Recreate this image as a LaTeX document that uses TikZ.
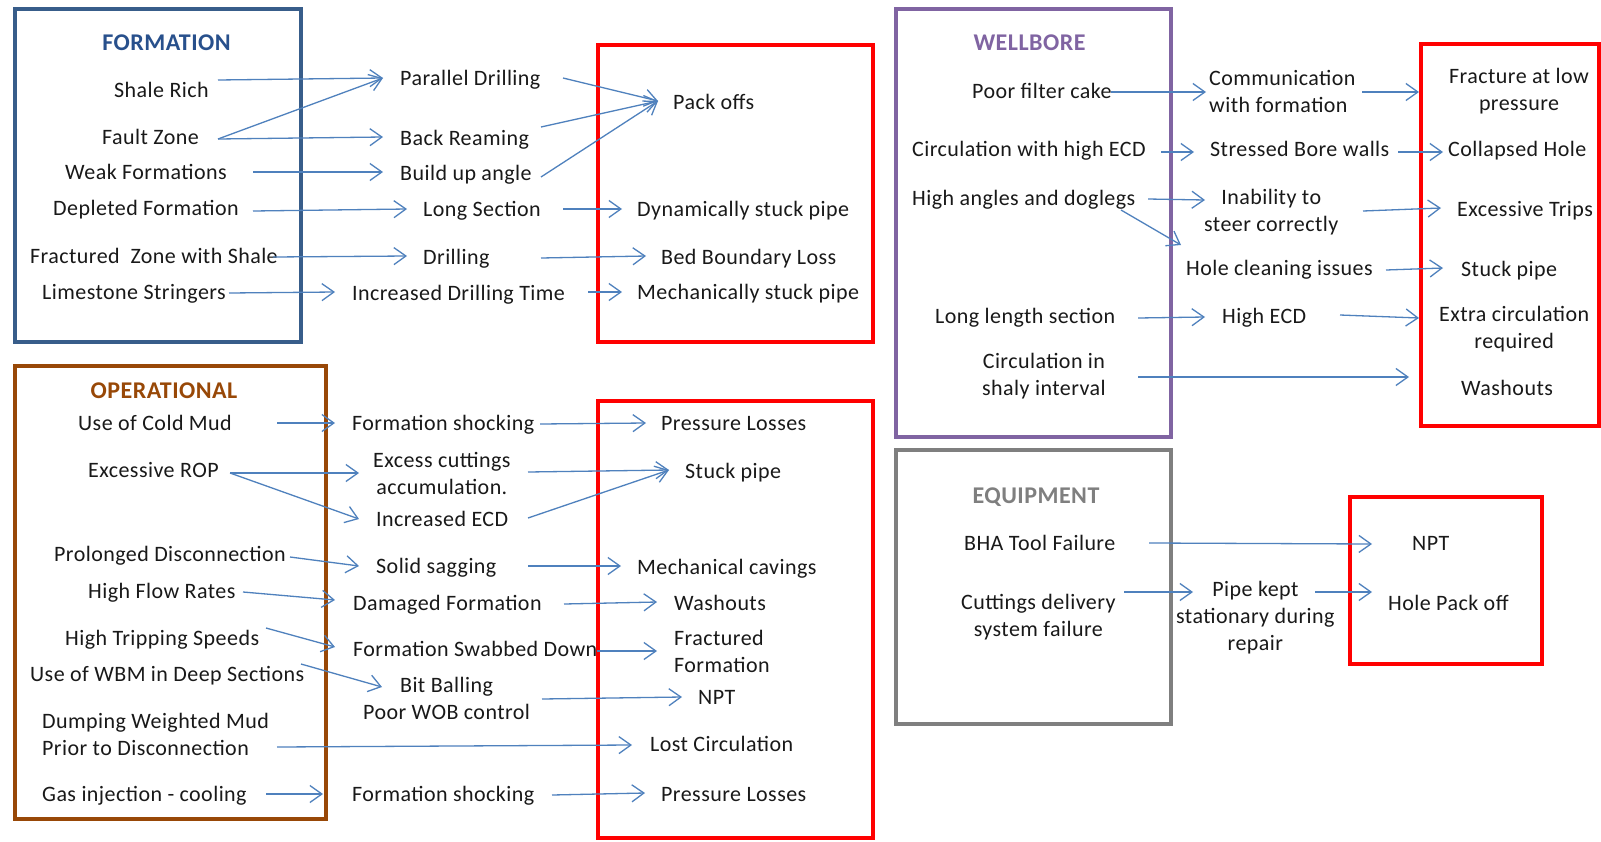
\documentclass[tikz,border=0pt]{standalone}
\usepackage{fontspec}
\setmainfont{Carlito}[LetterSpace=2.0]
\usetikzlibrary{arrows.meta}
\definecolor{arrowc}{RGB}{79,129,189}
\definecolor{formc}{RGB}{56,93,138}
\definecolor{formt}{RGB}{40,80,140}
\definecolor{operc}{RGB}{152,72,7}
\definecolor{wellc}{RGB}{128,100,162}
\definecolor{equipc}{RGB}{127,127,127}
\definecolor{redc}{RGB}{255,0,0}
\definecolor{txtc}{RGB}{25,25,25}
\tikzset{
  x=1pt, y=-1pt,
  txt/.style={inner sep=0pt, anchor=west, text=txtc, font=\fontsize{22}{27}\selectfont, text height=17pt, text depth=3pt},
  txtm/.style={inner sep=0pt, anchor=west, text=txtc, font=\fontsize{22}{27}\selectfont},
  ttl/.style={inner sep=0pt, anchor=center, font=\fontsize{24}{29}\selectfont\bfseries},
  arr/.style={draw=arrowc, line width=1.3pt, -{Straight Barb[length=12pt,width=17pt]}},
  boxline/.style={line width=4pt}
}
\begin{document}
\begin{tikzpicture}
\useasboundingbox (0,0) rectangle (1601,841);
\fill[white] (0,0) rectangle (1601,841);

% ---------- boxes ----------
\draw[boxline, draw=formc]  (15,8.5) rectangle (300.5,341.5);
\draw[boxline, draw=operc]  (15,366) rectangle (326,819);
\draw[boxline, draw=wellc]  (896,8.5) rectangle (1171,437);
\draw[boxline, draw=equipc] (896,449.5) rectangle (1171,724);
\draw[boxline, draw=redc] (598,44.5) rectangle (873,342);
\draw[boxline, draw=redc] (598,401) rectangle (873,838);
\draw[boxline, draw=redc] (1421,44) rectangle (1599,426);
\draw[boxline, draw=redc] (1350,497) rectangle (1542,664);

% ---------- FORMATION ----------
\node[ttl, text=formt] (F0) at (166.5,42.5) {FORMATION};
\node[txt] (f1) at (114,90) {Shale Rich};
\node[txt] (f2) at (102,137) {Fault Zone};
\node[txt] (f3) at (65,172) {Weak Formations};
\node[txt] (f4) at (53,208) {Depleted Formation};
\node[txt] (f5) at (30,256) {Fractured\ \ Zone with Shale};
\node[txt] (f6) at (42,292) {Limestone Stringers};
\node[txt] (m1) at (400,78) {Parallel Drilling};
\node[txt] (m2) at (400,138) {Back Reaming};
\node[txt] (m3) at (400,173) {Build up angle};
\node[txt] (m4) at (423,209) {Long Section};
\node[txt] (m5) at (423,257) {Drilling};
\node[txt] (m6) at (352,293) {Increased Drilling Time};
\node[txt] (r1) at (673,102) {Pack offs};
\node[txt] (r2) at (637,209) {Dynamically stuck pipe};
\node[txt] (r3) at (661,257) {Bed Boundary Loss};
\node[txt] (r4) at (637,292) {Mechanically stuck pipe};

\draw[arr] ([shift={(104,-10)}]f1.west) -- ([shift={(-17,0)}]m1.west);
\draw[arr] ([shift={(116,2)}]f2.west) -- ([shift={(-17,0)}]m1.west);
\draw[arr] ([shift={(116,2)}]f2.west) -- ([shift={(-17,-1)}]m2.west);
\draw[arr] ([shift={(188,0)}]f3.west) -- ([shift={(-17,-1)}]m3.west);
\draw[arr] ([shift={(200,3)}]f4.west) -- ([shift={(-16,0)}]m4.west);
\draw[arr] ([shift={(243,1)}]f5.west) -- ([shift={(-16,-1)}]m5.west);
\draw[arr] ([shift={(187,1)}]f6.west) -- ([shift={(-17,-1)}]m6.west);
\draw[arr] ([shift={(163,0)}]m1.west) -- ([shift={(-15,-1)}]r1.west);
\draw[arr] ([shift={(141,-11)}]m2.west) -- ([shift={(-15,-1)}]r1.west);
\draw[arr] ([shift={(141,4)}]m3.west) -- ([shift={(-15,-1)}]r1.west);
\draw[arr] ([shift={(140,0)}]m4.west) -- ([shift={(-15,0)}]r2.west);
\draw[arr] ([shift={(118,1)}]m5.west) -- ([shift={(-15,-1)}]r3.west);
\draw[arr] ([shift={(236,-1)}]m6.west) -- ([shift={(-15,0)}]r4.west);

% ---------- OPERATIONAL ----------
\node[ttl, text=operc] (O0) at (164,390.3) {OPERATIONAL};
\node[txt] (o1) at (78,423) {Use of Cold Mud};
\node[txt] (o2) at (88,470) {Excessive ROP};
\node[txt] (o3) at (54,554) {Prolonged Disconnection};
\node[txt] (o4) at (88,591) {High Flow Rates};
\node[txt] (o5) at (65,638) {High Tripping Speeds};
\node[txt] (o6) at (30,674) {Use of WBM in Deep Sections};
\node[txtm, align=left] (o7) at (42,734) {Dumping Weighted Mud\\Prior to Disconnection};
\node[txt] (o8) at (42,794) {Gas injection - cooling};
\node[txt] (n1) at (352,423) {Formation shocking};
\node[txtm, align=center] (n2) at (373,473) {Excess cuttings\\accumulation.};
\node[txt] (n3) at (376,519) {Increased ECD};
\node[txt] (n4) at (376,566) {Solid sagging};
\node[txt] (n5) at (353,603) {Damaged Formation};
\node[txt] (n6) at (353,649) {Formation Swabbed Down};
\node[txtm, align=center] (n7) at (363,698) {Bit Balling\\Poor WOB control};
\node[txt] (n8) at (352,794) {Formation shocking};
\node[txt] (s1) at (661,423) {Pressure Losses};
\node[txt] (s2) at (685,471) {Stuck pipe};
\node[txt] (s3) at (637,567) {Mechanical cavings};
\node[txt] (s4) at (674,603) {Washouts};
\node[txtm, align=left] (s5) at (674,651) {Fractured\\Formation};
\node[txt] (s6) at (698,697) {NPT};
\node[txt] (s7) at (650,744) {Lost Circulation};
\node[txt] (s8) at (661,794) {Pressure Losses};

\draw[arr] ([shift={(199,0)}]o1.west) -- ([shift={(-17,0)}]n1.west);
\draw[arr] ([shift={(142,3)}]o2.west) -- ([shift={(-14,0)}]n2.west);
\draw[arr] ([shift={(142,3)}]o2.west) -- ([shift={(-17,0)}]n3.west);
\draw[arr] ([shift={(236,3)}]o3.west) -- ([shift={(-17,0)}]n4.west);
\draw[arr] ([shift={(155,1)}]o4.west) -- ([shift={(-18,-3)}]n5.west);
\draw[arr] ([shift={(201,-10)}]o5.west) -- ([shift={(-18,-2)}]n6.west);
\draw[arr] ([shift={(271,-10)}]o6.west) -- ([shift={(19,-11)}]n7.west);
\draw[arr] ([shift={(235,13)}]o7.west) -- ([shift={(-18,1)}]s7.west);
\draw[arr] ([shift={(224,0)}]o8.west) -- ([shift={(-29,0)}]n8.west);
\draw[arr] ([shift={(188,1)}]n1.west) -- ([shift={(-15,0)}]s1.west);
\draw[arr] ([shift={(155,-1)}]n2.west) -- ([shift={(-16,-1)}]s2.west);
\draw[arr] ([shift={(152,-1)}]n3.west) -- ([shift={(-16,-1)}]s2.west);
\draw[arr] ([shift={(152,0)}]n4.west) -- ([shift={(-16,-1)}]s3.west);
\draw[arr] ([shift={(211,1)}]n5.west) -- ([shift={(-17,-1)}]s4.west);
\draw[arr] ([shift={(244,2)}]n6.west) -- ([shift={(-17,0)}]s5.west);
\draw[arr] ([shift={(179,1)}]n7.west) -- ([shift={(-16,0)}]s6.west);
\draw[arr] ([shift={(200,1)}]n8.west) -- ([shift={(-16,-1)}]s8.west);

% ---------- WELLBORE ----------
\node[ttl, text=wellc] (W0) at (1029.5,42.7) {WELLBORE};
\node[txt] (w1) at (972,91) {Poor filter cake};
\node[txt] (w2) at (912,149) {Circulation with high ECD};
\node[txt] (w3) at (912,198) {High angles and doglegs};
\node[txt] (w4) at (935,316) {Long length section};
\node[txtm, align=center] (w5) at (982,376) {Circulation in\\shaly interval};
\node[txtm, align=left] (x1) at (1209,91) {Communication\\with formation};
\node[txt] (x2) at (1210,149) {Stressed Bore walls};
\node[txtm, align=center] (x3) at (1204,212) {Inability to\\steer correctly};
\node[txt] (x4) at (1186,268) {Hole cleaning issues};
\node[txt] (x5) at (1222,316) {High ECD};
\node[txtm, align=center] (y1) at (1449,91) {Fracture at low\\pressure};
\node[txt] (y2) at (1448,149) {Collapsed Hole};
\node[txt] (y3) at (1457,209) {Excessive Trips};
\node[txt] (y4) at (1461,269) {Stuck pipe};
\node[txtm, align=center] (y5) at (1439,329) {Extra circulation\\required};
\node[txt] (y6) at (1461,388) {Washouts};

\draw[arr] ([shift={(139,1)}]w1.west) -- ([shift={(-3,1)}]x1.west);
\draw[arr] ([shift={(153,1)}]x1.west) -- ([shift={(-30,1)}]y1.west);
\draw[arr] ([shift={(249,3)}]w2.west) -- ([shift={(-16,3)}]x2.west);
\draw[arr] ([shift={(188,3)}]x2.west) -- ([shift={(-5,3)}]y2.west);
\draw[arr] ([shift={(236,1)}]w3.west) -- ([shift={(1,-12)}]x3.west);
\draw[arr] ([shift={(209,12)}]w3.west) -- ([shift={(-5,-23)}]x4.west);
\draw[arr] ([shift={(159,-1)}]x3.west) -- ([shift={(-16,-1)}]y3.west);
\draw[arr] ([shift={(200,2)}]x4.west) -- ([shift={(-18,-1)}]y4.west);
\draw[arr] ([shift={(203,2)}]w4.west) -- ([shift={(-17,1)}]x5.west);
\draw[arr] ([shift={(118,-1)}]x5.west) -- ([shift={(-20,-11)}]y5.west);
\draw[arr] ([shift={(156,1)}]w5.west) -- ([shift={(-52,-11)}]y6.west);

% ---------- EQUIPMENT ----------
\node[ttl, text=equipc] (E0) at (1036,497) {EQUIPMENT};
\node[txt] (e1) at (964,543) {BHA Tool Failure};
\node[txtm, align=center] (e2) at (961,617) {Cuttings delivery\\system failure};
\node[txtm, align=center] (p1) at (1176,618) {Pipe kept\\stationary during\\repair};
\node[txt] (z1) at (1412,543) {NPT};
\node[txt] (z2) at (1388,603) {Hole Pack off};

\draw[arr] ([shift={(185,0)}]e1.west) -- ([shift={(-40,1)}]z1.west);
\draw[arr] ([shift={(163,-25)}]e2.west) -- ([shift={(17,-26)}]p1.west);
\draw[arr] ([shift={(139,-26)}]p1.west) -- ([shift={(-16,-11)}]z2.west);
\end{tikzpicture}
\end{document}
